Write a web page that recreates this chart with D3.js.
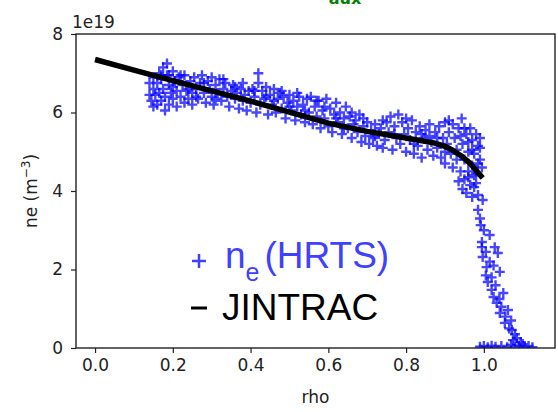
<!DOCTYPE html>
<html>
<head>
<meta charset="utf-8">
<script src="https://cdn.jsdelivr.net/npm/d3@7"></script>
<style>
  body { margin: 0; background: #fff; }
  .axis-font { font-family: "DejaVu Sans", sans-serif; }
  .legend-font { font-family: "Liberation Sans", Arial, sans-serif; }
</style>
</head>
<body>
<div id="chart"></div>
<script>
var hrtsPoints = [
  [0.14,6.45],[0.14,6.75],[0.145,6.3],[0.15,6.6],[0.15,6.9],[0.155,6.45],[0.16,6.2],[0.16,6.75],
  [0.165,7.0],[0.165,6.5],[0.17,6.3],[0.17,6.85],[0.175,7.15],[0.175,6.6],[0.18,6.05],[0.18,6.4],
  [0.185,6.95],[0.185,7.25],[0.19,6.7],[0.19,6.2],[0.195,6.5],[0.2,7.05],[0.2,6.35],[0.205,6.8],
  [0.21,6.15],[0.21,6.55],[0.215,6.9],[0.22,6.4],[0.225,6.7],[0.23,6.25],[0.23,6.95],[0.235,6.55],
  [0.24,6.35],[0.245,6.8],[0.25,6.5],[0.25,6.2],
  [0.15,6.15],[0.17,6.95],[0.19,6.95],[0.2,6.65],[0.22,6.95],[0.24,6.6],
  [0.255,6.9],[0.26,6.6],[0.265,6.35],[0.27,6.75],[0.275,6.95],[0.28,6.5],[0.285,6.25],[0.29,6.8],
  [0.295,6.6],[0.3,6.4],[0.3,6.9],[0.305,6.2],[0.31,6.7],[0.315,6.5],[0.32,6.85],[0.325,6.3],
  [0.33,6.6],[0.335,6.75],[0.34,6.4],[0.345,6.15],[0.35,6.55],[0.355,6.7],[0.36,6.35],[0.365,6.5],
  [0.37,6.1],[0.375,6.6],[0.38,6.3],[0.385,6.45],[0.39,6.05],[0.395,6.55],[0.4,6.25],
  [0.26,6.4],[0.28,6.75],[0.31,6.35],[0.33,6.85],[0.36,6.65],[0.38,6.75],
  [0.405,6.6],[0.41,6.4],[0.415,6.0],[0.42,7.0],[0.42,6.75],[0.425,6.2],[0.43,6.55],[0.435,6.35],
  [0.44,6.65],[0.445,5.95],[0.45,6.45],[0.455,6.2],[0.46,6.6],[0.465,6.0],[0.47,6.35],[0.475,6.5],
  [0.48,6.1],[0.485,6.4],[0.49,5.85],[0.495,6.25],[0.5,6.45],[0.505,6.05],[0.51,6.3],[0.515,5.8],
  [0.52,6.15],[0.525,6.4],[0.53,5.95],[0.535,6.2],[0.54,5.75],[0.545,6.35],[0.55,6.0],
  [0.41,6.55],[0.44,6.4],[0.46,6.3],[0.48,6.55],[0.5,6.15],[0.52,6.5],[0.54,6.05],
  [0.555,6.4],[0.56,5.7],[0.565,6.15],[0.57,5.9],[0.575,6.3],[0.58,5.6],[0.585,6.05],[0.59,5.85],
  [0.595,6.35],[0.6,5.65],[0.605,6.1],[0.61,5.5],[0.615,5.95],[0.62,6.25],[0.625,5.75],[0.63,6.0],
  [0.635,5.45],[0.64,5.85],[0.645,6.15],[0.65,5.6],[0.655,5.9],[0.66,5.35],[0.665,5.7],[0.67,5.8],
  [0.675,5.5],[0.68,5.95],[0.685,5.25],[0.69,5.65],[0.695,5.4],[0.7,5.75],
  [0.57,6.3],[0.59,6.15],[0.62,5.85],[0.64,5.6],[0.66,6.0],[0.69,5.85],
  [0.705,5.2],[0.71,5.55],[0.715,5.35],[0.72,5.7],[0.725,5.15],[0.73,5.45],[0.735,5.6],[0.74,5.1],
  [0.745,5.3],[0.75,5.75],[0.755,5.5],[0.76,5.9],[0.765,5.05],[0.77,5.65],[0.775,5.35],[0.78,5.95],
  [0.785,5.2],[0.79,5.75],[0.795,5.45],[0.8,5.0],[0.805,5.6],[0.81,5.3],[0.815,5.8],[0.82,4.95],
  [0.825,5.5],[0.83,5.15],[0.835,5.65],[0.84,4.85],[0.845,5.35],[0.85,5.55],[0.855,5.05],[0.86,5.7],
  [0.865,5.25],[0.87,4.9],
  [0.72,5.4],[0.74,5.8],[0.77,5.45],[0.8,5.85],[0.82,5.2],[0.84,5.45],[0.86,5.4],
  [0.875,5.5],[0.88,5.1],[0.885,5.65],[0.89,4.85],[0.895,5.35],[0.9,5.75],[0.9,4.7],[0.905,5.2],
  [0.91,5.5],[0.915,4.95],[0.92,5.7],[0.92,4.6],[0.925,5.35],[0.93,5.05],[0.935,5.6],[0.94,4.5],
  [0.943,5.85],[0.945,5.2],[0.95,4.8],[0.955,5.45],[0.96,4.35],[0.96,5.0],[0.965,5.6],[0.97,4.65],
  [0.97,5.3],[0.975,4.95],[0.98,5.45],[0.98,4.45],[0.985,5.15],[0.99,4.8],[0.99,5.35],[0.995,4.6],
  [0.88,5.35],[0.9,5.0],[0.91,5.8],[0.93,4.8],[0.94,5.4],[0.95,5.6],[0.96,5.25],[0.97,5.05],
  [0.975,4.4],[0.98,4.2],[0.985,4.7],[0.99,5.1],[0.96,4.5],[0.985,3.9],[0.975,4.1],
  [0.935,4.25],[0.945,4.05],[0.95,4.3],[0.955,3.95],[0.965,4.15],[0.97,3.85],
  [0.997,3.77],[0.985,3.52],[0.99,3.3],[0.992,3.13],[1.0,3.0],[1.015,2.88],[0.995,2.7],[0.995,2.57],
  [1.028,2.57],[1.005,2.45],[0.997,2.32],[1.036,2.42],[1.015,2.2],[1.007,2.06],[1.025,2.1],[1.041,1.94],
  [1.005,1.85],[1.02,1.8],[1.01,1.68],[1.03,1.6],[1.02,1.48],[1.05,1.4],[1.025,1.3],[1.04,1.25],
  [1.033,1.15],[1.045,1.05],[1.062,0.97],[1.041,0.89],[1.055,0.8],[1.054,0.64],[1.07,0.7],[1.065,0.5],
  [1.072,0.46],[1.08,0.35],[1.085,0.25],[1.075,0.2],[1.095,0.15],[1.1,0.1],
  [0.99,0.03],[1.0,0.05],[1.01,0.02],[1.02,0.06],[1.03,0.03],[1.045,0.05],[1.06,0.02],[1.07,0.08],
  [1.08,0.04],[1.09,0.06],[1.105,0.03],[1.115,0.05],[1.125,0.02]
];

// JINTRAC profile
var jintracRho = [0, 0.1, 0.2, 0.3, 0.4, 0.5, 0.6, 0.7, 0.8, 0.874, 0.9, 0.92, 0.945, 0.964, 0.98, 0.997];
var jintracNe  = [7.35, 7.08, 6.81, 6.55, 6.29, 6.01, 5.73, 5.52, 5.35, 5.22, 5.14, 5.04, 4.87, 4.71, 4.53, 4.33];

var xTicks = [0.0, 0.2, 0.4, 0.6, 0.8, 1.0];
var yTicks = [0, 2, 4, 6, 8];

// size and margins
var width = 558, height = 412;
var margin = {top: 34, right: 3, bottom: 64, left: 76};

var svg = d3.select("#chart")
    .append("svg")
    .attr("width", width)
    .attr("height", height);

var x = d3.scaleLinear()
    .domain([-0.049, 1.183])
    .range([margin.left, width - margin.right]);

var y = d3.scaleLinear()
    .domain([0, 8])
    .range([height - margin.bottom, margin.top]);

svg.append("clipPath").attr("id", "plotClip")
    .append("rect")
    .attr("x", margin.left)
    .attr("y", margin.top)
    .attr("width", width - margin.right - margin.left)
    .attr("height", height - margin.bottom - margin.top);

// scatter, '+' markers
svg.append("g")
    .attr("clip-path", "url(#plotClip)")
    .selectAll("path")
    .data(hrtsPoints)
    .join("path")
    .attr("transform", d => `translate(${x(d[0])},${y(d[1])})`)
    .attr("d", "M-5,0H5M0,-5V5")
    .attr("stroke", "blue")
    .attr("stroke-opacity", 0.72)
    .attr("stroke-width", 2.4)
    .attr("fill", "none");

// JINTRAC line
var line = d3.line()
    .x((d, i) => x(jintracRho[i]))
    .y(d => y(d));

svg.append("path")
    .datum(jintracNe)
    .attr("d", line)
    .attr("fill", "none")
    .attr("stroke", "black")
    .attr("stroke-width", 5.5)
    .attr("stroke-linejoin", "round");

// axes
var xAxis = g => g
    .attr("transform", `translate(0,${height - margin.bottom})`)
    .call(d3.axisBottom(x).tickValues(xTicks).tickFormat(d3.format(".1f")).tickSize(5).tickPadding(6))
    .call(g => g.select(".domain").remove());

var yAxis = g => g
    .attr("transform", `translate(${margin.left},0)`)
    .call(d3.axisLeft(y).tickValues(yTicks).tickFormat(d3.format("d")).tickSize(5).tickPadding(8))
    .call(g => g.select(".domain").remove());

svg.append("g").call(xAxis);
svg.append("g").call(yAxis);

svg.selectAll(".tick text")
    .attr("class", "axis-font")
    .attr("font-size", "17px")
    .attr("fill", "#222");
svg.selectAll(".tick line")
    .attr("stroke", "#222")
    .attr("stroke-width", 1.2);

// frame
svg.append("rect")
    .attr("x", margin.left)
    .attr("y", margin.top)
    .attr("width", width - margin.right - margin.left)
    .attr("height", height - margin.bottom - margin.top)
    .attr("fill", "none")
    .attr("stroke", "#222")
    .attr("stroke-width", 1.4);

// offset text
svg.append("text")
    .attr("class", "axis-font")
    .attr("x", 72)
    .attr("y", 28)
    .attr("font-size", "17px")
    .attr("fill", "#222")
    .text("1e19");

// axis labels
svg.append("text")
    .attr("class", "axis-font")
    .attr("x", (margin.left + width - margin.right) / 2)
    .attr("y", 403)
    .attr("text-anchor", "middle")
    .attr("font-size", "17px")
    .attr("fill", "#222")
    .text("rho");

var yl = svg.append("text")
    .attr("class", "axis-font")
    .attr("transform", `translate(37,${(margin.top + height - margin.bottom) / 2}) rotate(-90)`)
    .attr("text-anchor", "middle")
    .attr("font-size", "17px")
    .attr("fill", "#222");
yl.append("tspan").text("ne (m");
yl.append("tspan").attr("font-size", "12px").attr("dy", -7).text("\u22123");
yl.append("tspan").attr("dy", 7).text(")");

// green title fragment at the very top (cut off in the original too)
svg.append("text")
    .attr("class", "axis-font")
    .attr("x", 345)
    .attr("y", 4)
    .attr("text-anchor", "middle")
    .attr("font-size", "16px")
    .attr("font-weight", "bold")
    .attr("fill", "green")
    .text("aux");

// legend
var leg = svg.append("g");
leg.append("path")
    .attr("d", "M192,261H206M199,254V268")
    .attr("stroke", "#4040ff")
    .attr("stroke-width", 2.5);
var t1 = leg.append("text")
    .attr("class", "legend-font")
    .attr("x", 225)
    .attr("y", 268)
    .attr("font-size", "37px")
    .attr("fill", "#4040ff");
t1.append("tspan").text("n");
t1.append("tspan").attr("font-size", "25px").attr("dy", 13).text("e");
t1.append("tspan").attr("dy", -13).attr("dx", 5).text("(HRTS)");

leg.append("path")
    .attr("d", "M191,308H207")
    .attr("stroke", "black")
    .attr("stroke-width", 3);
leg.append("text")
    .attr("class", "legend-font")
    .attr("x", 222)
    .attr("y", 320)
    .attr("font-size", "37px")
    .attr("fill", "black")
    .text("JINTRAC");
</script>
</body>
</html>
